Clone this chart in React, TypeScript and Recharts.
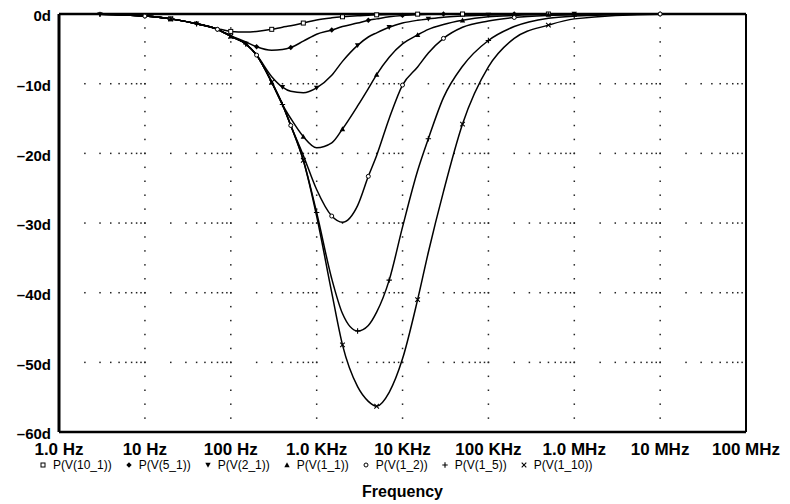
import { LineChart, Line, XAxis, YAxis, CartesianGrid, ReferenceLine, Legend } from "recharts";

// frequency points (Hz) where the phase of each curve was read
const freqs = [
  1, 3, 10, 20, 40, 70, 100, 150, 200, 300, 400, 500, 700, 1000, 1500, 2000, 3000, 4000, 5000, 7000,
  10000, 15000, 20000, 30000, 50000, 100000, 200000, 500000, 1e6, 1e7, 1e8,
];

const freqTicks = [1, 10, 100, 1e3, 1e4, 1e5, 1e6, 1e7, 1e8];
const freqTickLabels = ["1.0 Hz", "10 Hz", "100 Hz", "1.0 KHz", "10 KHz", "100 KHz", "1.0 MHz", "10 MHz", "100 MHz"];
const phaseTicks = [0, -10, -20, -30, -40, -50, -60];
const phaseTickLabels = ["0d", "–10d", "–20d", "–30d", "–40d", "–50d", "–60d"];

// phase in degrees
const p10_1 = [0, -0.05, -0.3, -0.7, -1.4, -2.1, -2.5, -2.6, -2.5, -2.2, -1.9, -1.7, -1.3, -0.85, -0.55, -0.4, -0.25, -0.18, -0.12, -0.07, -0.04, -0.02, 0, 0, 0, 0, 0, 0, 0, 0, 0];
const p5_1 = [0, -0.05, -0.3, -0.7, -1.4, -2.2, -3.1, -4.0, -4.7, -5.2, -5.1, -4.8, -3.9, -2.9, -2.3, -1.8, -1.3, -0.9, -0.7, -0.4, -0.2, -0.1, -0.05, 0, 0, 0, 0, 0, 0, 0, 0];
const p2_1 = [0, -0.05, -0.3, -0.7, -1.4, -2.2, -3.2, -4.3, -5.9, -9.0, -10.5, -11.1, -11.3, -10.6, -8.8, -6.8, -4.5, -3.3, -2.7, -1.9, -1.3, -0.9, -0.7, -0.45, -0.3, -0.15, -0.05, 0, 0, 0, 0];
const p1_1 = [0, -0.05, -0.3, -0.7, -1.4, -2.2, -3.2, -4.3, -5.9, -9.8, -13.0, -15.0, -17.6, -19.2, -18.5, -16.5, -13.2, -10.7, -8.7, -6.2, -4.3, -3.0, -2.2, -1.5, -0.9, -0.4, -0.2, -0.05, 0, 0, 0];
const p1_2 = [0, -0.05, -0.3, -0.7, -1.4, -2.2, -3.2, -4.3, -5.9, -9.8, -13.0, -16.0, -20.3, -25.2, -29.0, -29.9, -27.5, -23.3, -20.3, -15.0, -10.2, -7.6, -5.6, -3.5, -1.9, -1.0, -0.5, -0.2, -0.1, 0, 0];
const p1_5 = [0, -0.05, -0.3, -0.7, -1.4, -2.2, -3.2, -4.3, -5.9, -9.8, -13.0, -16.0, -21.0, -28.5, -38.0, -43.0, -45.5, -44.7, -42.8, -38.2, -30.6, -22.5, -17.9, -12.0, -7.5, -3.8, -1.8, -0.6, -0.3, 0, 0];
const p1_10 = [0, -0.05, -0.3, -0.7, -1.4, -2.2, -3.2, -4.3, -5.9, -9.8, -13.0, -16.0, -21.0, -29.0, -40.0, -47.5, -53.5, -55.6, -56.3, -54.3, -49.5, -41.0, -34.2, -25.5, -15.8, -7.6, -3.5, -1.6, -0.7, -0.05, 0];

const series = [
  { key: "v10_1", name: "P(V(10_1))", values: p10_1, marker: "square" },
  { key: "v5_1", name: "P(V(5_1))", values: p5_1, marker: "diamond" },
  { key: "v2_1", name: "P(V(2_1))", values: p2_1, marker: "down" },
  { key: "v1_1", name: "P(V(1_1))", values: p1_1, marker: "up" },
  { key: "v1_2", name: "P(V(1_2))", values: p1_2, marker: "circle" },
  { key: "v1_5", name: "P(V(1_5))", values: p1_5, marker: "plus" },
  { key: "v1_10", name: "P(V(1_10))", values: p1_10, marker: "x" },
];

const data = freqs.map((f, i) => {
  const row: Record<string, number> = { f };
  series.forEach((s) => (row[s.key] = s.values[i]));
  return row;
});

const FONT = "'Liberation Sans', Arial, sans-serif";

function Marker({ shape, cx, cy }: { shape: string; cx: number; cy: number }) {
  const r = 2;
  switch (shape) {
    case "square":
      return <rect x={cx - r} y={cy - r} width={r * 2} height={r * 2} fill="#fff" stroke="#000" strokeWidth={1} />;
    case "diamond":
      return <polygon points={`${cx},${cy - 2.7} ${cx + 2.7},${cy} ${cx},${cy + 2.7} ${cx - 2.7},${cy}`} fill="#000" />;
    case "down":
      return <polygon points={`${cx - 2.7},${cy - 2.2} ${cx + 2.7},${cy - 2.2} ${cx},${cy + 2.7}`} fill="#000" />;
    case "up":
      return <polygon points={`${cx - 2.7},${cy + 2.2} ${cx + 2.7},${cy + 2.2} ${cx},${cy - 2.7}`} fill="#000" />;
    case "circle":
      return <circle cx={cx} cy={cy} r={r} fill="#fff" stroke="#000" strokeWidth={1} />;
    case "plus":
      return <path d={`M${cx - 2.7},${cy}H${cx + 2.7}M${cx},${cy - 2.7}V${cy + 2.7}`} stroke="#000" strokeWidth={1.1} />;
    default:
      return <path d={`M${cx - 2.3},${cy - 2.3}L${cx + 2.3},${cy + 2.3}M${cx + 2.3},${cy - 2.3}L${cx - 2.3},${cy + 2.3}`} stroke="#000" strokeWidth={1.1} />;
  }
}

// PSpice style dotted grid: log spaced dots on horizontal lines, 2d spaced dots on vertical ones
const hGrid = (p: any) => {
  const dots = [];
  const w = p.x2 - p.x1;
  for (let d = 0; d < 8; d++) {
    for (let k = 1; k <= 9; k++) {
      if (d === 0 && k === 1) continue;
      const x = p.x1 + (w * (d + Math.log10(k))) / 8;
      dots.push(<rect key={`${d}-${k}`} x={x - 0.7} y={p.y1 - 0.7} width={1.5} height={1.5} fill="#222" />);
    }
  }
  return <g key={`h-${p.index}`}>{dots}</g>;
};

const vGrid = (p: any) => {
  const dots = [];
  const h = p.y2 - p.y1;
  for (let i = 1; i < 30; i++) {
    const y = p.y1 + (h * i) / 30;
    dots.push(<rect key={i} x={p.x1 - 0.7} y={y - 0.7} width={1.5} height={1.5} fill="#222" />);
  }
  return <g key={`v-${p.index}`}>{dots}</g>;
};

const renderLegend = () => (
  <div style={{ display: "flex", alignItems: "center", fontFamily: FONT, fontSize: 12, color: "#000", whiteSpace: "nowrap" }}>
    {series.map((s) => (
      <span key={s.key} style={{ display: "inline-flex", alignItems: "center", marginRight: 13 }}>
        <svg width={8} height={8} style={{ marginRight: 6 }}>
          <Marker shape={s.marker} cx={4} cy={4} />
        </svg>
        {s.name}
      </span>
    ))}
  </div>
);

export default function App() {
  return (
    <div style={{ position: "absolute", left: 0, top: 0, background: "#fff" }}>
      <LineChart width={790} height={504} data={data} margin={{ top: 14, right: 44, bottom: 0, left: 4 }} style={{ fontFamily: FONT }}>
        <CartesianGrid horizontal={hGrid} vertical={vGrid} />
        <XAxis
          dataKey="f"
          type="number"
          scale="log"
          domain={[1, 1e8]}
          ticks={freqTicks}
          tickFormatter={(v: number) => freqTickLabels[freqTicks.indexOf(v)] ?? ""}
          tick={{ fill: "#000", fontSize: 17, fontWeight: "bold" }}
          tickSize={0}
          tickMargin={11}
          height={72}
          axisLine={{ stroke: "#000", strokeWidth: 2.5 }}
          allowDataOverflow
          interval={0}
          label={{ value: "Frequency", position: "insideBottom", offset: 7, fill: "#000", fontSize: 16, fontWeight: "bold" }}
        />
        <YAxis
          type="number"
          domain={[-60, 0]}
          ticks={phaseTicks}
          tickFormatter={(v: number) => phaseTickLabels[phaseTicks.indexOf(v)] ?? ""}
          tick={{ fill: "#000", fontSize: 15, fontWeight: "bold", dy: 2 }}
          tickSize={0}
          tickMargin={8}
          width={55}
          axisLine={{ stroke: "#000", strokeWidth: 3 }}
          interval={0}
        />
        <ReferenceLine y={0} stroke="#000" strokeWidth={2.5} />
        <ReferenceLine x={1e8} stroke="#000" strokeWidth={2} />
        <Legend
          verticalAlign="middle"
          layout="horizontal"
          wrapperStyle={{ top: 458, left: 39, width: 600 }}
          content={renderLegend}
        />
        {series.map((s, si) => (
          <Line
            key={s.key}
            dataKey={s.key}
            name={s.name}
            type="monotone"
            stroke="#000"
            strokeWidth={1.5}
            isAnimationActive={false}
            activeDot={false}
            dot={(p: any) =>
              (p.index + si) % 3 === 0 && p.index > 0 && p.index < freqs.length - 1 ? (
                <Marker key={`m-${si}-${p.index}`} shape={s.marker} cx={p.cx} cy={p.cy} />
              ) : (
                <g key={`m-${si}-${p.index}`} />
              )
            }
          />
        ))}
      </LineChart>
    </div>
  );
}
